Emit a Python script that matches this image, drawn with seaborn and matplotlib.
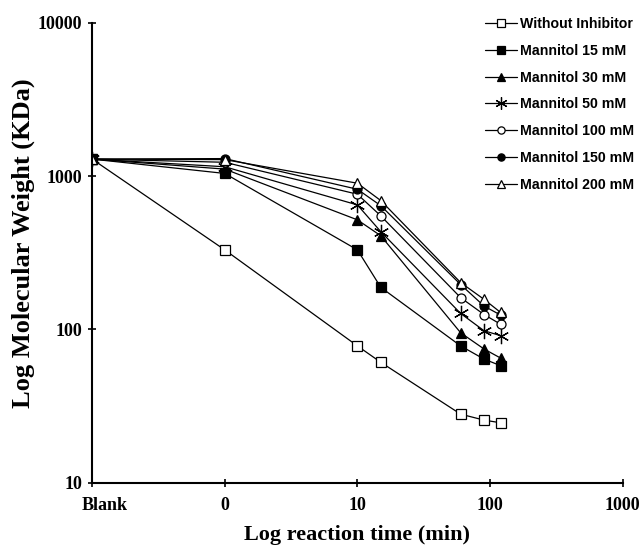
import matplotlib
matplotlib.use("Agg")
import matplotlib.pyplot as plt
import matplotlib.transforms as mtransforms
import seaborn as sns
import pandas as pd
from matplotlib.lines import Line2D

# x positions: Blank plotted at 0.1, "0 min" plotted at 1 on a log axis
times = [0.1, 1, 10, 15, 60, 90, 120]
tick_vals = [0.1, 1, 10, 100, 1000]
tick_labels = ["Blank", "0", "10", "100", "1000"]

series_names = ["Without Inhibitor", "Mannitol 15 mM", "Mannitol 30 mM",
                "Mannitol 50 mM", "Mannitol 100 mM", "Mannitol 150 mM",
                "Mannitol 200 mM"]
without_inhibitor = [1290, 330, 78, 61, 28, 25.6, 24.6]
mannitol_15 = [1290, 1040, 330, 188, 78, 64, 58]
mannitol_30 = [1290, 1110, 518, 408, 95, 74.5, 65]
mannitol_50 = [1290, 1150, 648, 434, 127, 98, 91]
mannitol_100 = [1290, 1230, 761, 550, 161, 125, 108]
mannitol_150 = [1290, 1300, 820, 641, 196, 142, 124]
mannitol_200 = [1290, 1280, 898, 692, 202, 157, 129]
all_values = [without_inhibitor, mannitol_15, mannitol_30, mannitol_50,
              mannitol_100, mannitol_150, mannitol_200]

rows = []
for name, vals in zip(series_names, all_values):
    for t, v in zip(times, vals):
        rows.append({"series": name, "time": t, "mw": v})
df = pd.DataFrame(rows)

styles = {
    "Without Inhibitor": dict(marker="s", mfc="white", ms=6.5),
    "Mannitol 15 mM": dict(marker="s", mfc="black", ms=6.5),
    "Mannitol 30 mM": dict(marker="^", mfc="black", ms=7.5),
    "Mannitol 50 mM": dict(marker=(6, 2, 0), mfc="black", ms=11),
    "Mannitol 100 mM": dict(marker="o", mfc="white", ms=6.5),
    "Mannitol 150 mM": dict(marker="o", mfc="black", ms=6.5),
    "Mannitol 200 mM": dict(marker="^", mfc="white", ms=7.5),
}

sns.set_theme(style="ticks")
plt.rcParams["font.family"] = ["Liberation Serif", "DejaVu Serif"]
plt.rcParams["text.color"] = "black"
plt.rcParams["axes.labelcolor"] = "black"
plt.rcParams["xtick.color"] = "black"
plt.rcParams["ytick.color"] = "black"

fig = plt.figure(figsize=(6.44, 5.45), dpi=100)
ax = fig.add_axes([0.143, 0.1143, 0.824, 0.8440])

for name in series_names:
    sub = df[df["series"] == name]
    st = styles[name]
    sns.lineplot(data=sub, x="time", y="mw", ax=ax, color="black", lw=0.9,
                 marker=st["marker"], markersize=st["ms"],
                 markerfacecolor=st["mfc"], markeredgecolor="black",
                 markeredgewidth=0.9, legend=False, sort=False)

ax.set_xscale("log")
ax.set_yscale("log")
ax.set_xlim(0.1, 1000)
ax.set_ylim(10, 10000)
ax.set_xticks(tick_vals)
ax.set_xticklabels(tick_labels)
ax.set_yticks([10, 100, 1000, 10000])
ax.set_yticklabels(["10", "100", "1000", "10000"])
ax.minorticks_off()
for lab in ax.get_xticklabels() + ax.get_yticklabels():
    lab.set_fontweight("bold")
    lab.set_fontsize(13)
    lab.set_color("black")
ax.tick_params(axis="both", direction="inout", length=6, width=1.2, colors="black", pad=4)
ax.tick_params(axis="x", pad=7)

# the "Blank" label sits a little right of its tick in the reference
blank_lab = ax.get_xticklabels()[0]
blank_lab.set_transform(blank_lab.get_transform() +
                        mtransforms.ScaledTranslation(13 / 100, 0, fig.dpi_scale_trans))

sns.despine(ax=ax)
for s in ["left", "bottom"]:
    ax.spines[s].set_linewidth(1.5)
    ax.spines[s].set_color("black")

ax.set_xlabel("Log reaction time (min)", fontsize=16, fontweight="bold", labelpad=8, color="black")
ax.set_ylabel("Log Molecular Weight (KDa)", fontsize=19, fontweight="bold", color="black")
ax.yaxis.set_label_coords(-0.107, 0.52)

handles = []
for name in series_names:
    st = styles[name]
    handles.append(Line2D([0], [0], color="black", lw=0.9, marker=st["marker"],
                          markersize=st["ms"] * 0.8, markerfacecolor=st["mfc"],
                          markeredgecolor="black", markeredgewidth=0.9))
leg = fig.legend(handles, series_names, loc="upper left",
                 bbox_to_anchor=(0.733, 0.992), frameon=False,
                 prop={"family": "Liberation Sans", "weight": "bold", "size": 10.2},
                 handlelength=2.3, handletextpad=0.2, labelspacing=0.9)
for t in leg.get_texts():
    t.set_color("black")

fig.savefig("out.png", dpi=100)
